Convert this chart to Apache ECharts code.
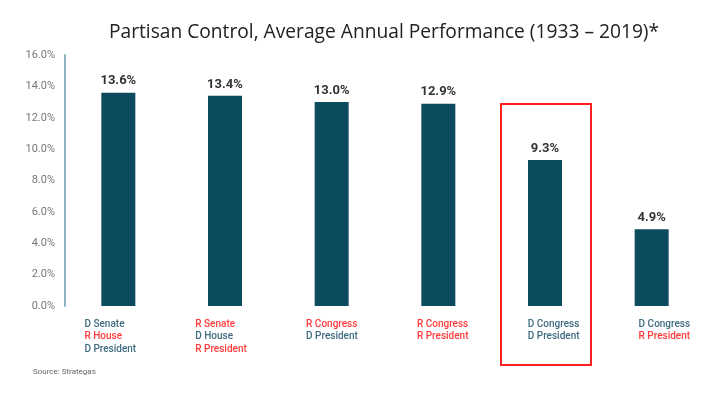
<!DOCTYPE html>
<html>
<head>
<meta charset="utf-8">
<script src="https://cdn.jsdelivr.net/npm/echarts@6/dist/echarts.min.js"></script>
<style>
    html, body { margin: 0; padding: 0; background: #fff; }
    #chart { width: 705px; height: 396px; }
</style>
</head>
<body>
<div id="chart"></div>
<script>
(function(){
    "use strict";

    // data
    var categories = ['c1', 'c2', 'c3', 'c4', 'c5', 'c6'];
    var performance = [13.6, 13.4, 13.0, 12.9, 9.3, 4.9];
    // each category label: lines of [party, text]
    var controlLines = [
        [['D', 'D Senate'], ['R', 'R House'], ['D', 'D President']],
        [['R', 'R Senate'], ['D', 'D House'], ['R', 'R President']],
        [['R', 'R Congress'], ['D', 'D President']],
        [['R', 'R Congress'], ['R', 'R President']],
        [['D', 'D Congress'], ['D', 'D President']],
        [['D', 'D Congress'], ['R', 'R President']]
    ];
    var yTicks = [0, 2, 4, 6, 8, 10, 12, 14, 16];

    var BAR = '#0c4a5e';
    var BLUE = '#3f6c80';
    var RED = '#ff3b3b';

    var chart = echarts.init(document.getElementById('chart'), null, {renderer: 'canvas'});

    var option = {
        animation: false,
        title: {
            text: 'Partisan Control, Average Annual Performance (1933 \u2013 2019)*',
            left: 379,
            top: 18,
            textAlign: 'center',
            textStyle: {
                fontFamily: 'Open Sans',
                fontSize: 19.2,
                fontWeight: 'normal',
                color: '#222'
            }
        },
        grid: [
            {left: 65, top: 55, width: 644, height: 251},
            // second grid only carries the category labels, spaced a bit wider
            {left: 29, top: 55, width: 665, height: 251}
        ],
        xAxis: [{
            type: 'category',
            gridIndex: 0,
            data: categories,
            axisLine: {show: false},
            axisTick: {show: false},
            axisLabel: {show: false}
        }, {
            type: 'category',
            gridIndex: 1,
            data: categories,
            axisLine: {show: false},
            axisTick: {show: false},
            axisLabel: {
                align: 'left',
                verticalAlign: 'top',
                margin: 12,
                formatter: function(val, idx){
                    return controlLines[idx].map(function(l){
                        return '{' + l[0] + '|' + l[1] + '}';
                    }).join('\n');
                },
                rich: {
                    D: {color: BLUE, fontFamily: 'Roboto', fontSize: 10, fontWeight: 500, lineHeight: 12.5, align: 'left'},
                    R: {color: RED, fontFamily: 'Roboto', fontSize: 10, fontWeight: 500, lineHeight: 12.5, align: 'left'}
                }
            }
        }],
        yAxis: [{
            type: 'value',
            gridIndex: 0,
            min: yTicks[0],
            max: yTicks[yTicks.length - 1],
            interval: 2,
            splitLine: {show: false},
            axisTick: {show: false},
            axisLine: {show: true, lineStyle: {color: '#8fb4c4', width: 2}},
            axisLabel: {
                margin: 10,
                color: '#777',
                fontFamily: 'Roboto',
                fontSize: 11,
                formatter: function(v){ return v.toFixed(1) + '%'; }
            }
        }, {
            type: 'value',
            gridIndex: 1,
            min: 0,
            max: 16,
            show: false
        }],
        series: [{
            type: 'bar',
            xAxisIndex: 0,
            yAxisIndex: 0,
            data: performance,
            barWidth: 34,
            itemStyle: {color: BAR},
            label: {
                show: true,
                position: 'top',
                distance: 5,
                color: '#333',
                fontFamily: 'Roboto',
                fontSize: 13,
                fontWeight: 'bold',
                formatter: function(p){ return p.value.toFixed(1) + '%'; }
            }
        }],
        graphic: [{
            type: 'rect',
            shape: {x: 501, y: 104, width: 90, height: 261},
            style: {fill: 'none', stroke: '#ff2020', lineWidth: 2}
        }, {
            type: 'text',
            left: 33,
            top: 368,
            style: {
                text: 'Source: Strategas',
                fill: '#666',
                font: '8px Roboto'
            }
        }]
    };

    chart.setOption(option);
})();
</script>
</body>
</html>
